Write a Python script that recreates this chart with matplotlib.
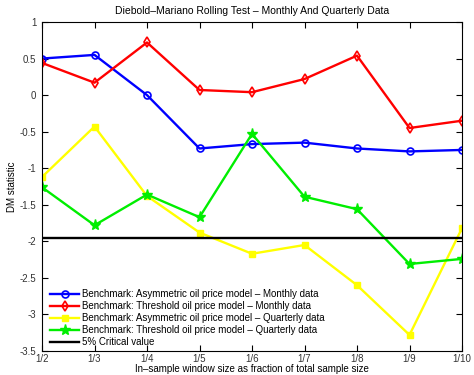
import matplotlib
matplotlib.use("Agg")
import matplotlib.pyplot as plt

labels = ["1/2", "1/3", "1/4", "1/5", "1/6", "1/7", "1/8", "1/9", "1/10"]
asym_monthly = [0.50, 0.55, 0.00, -0.73, -0.67, -0.65, -0.73, -0.77, -0.75]
thr_monthly = [0.44, 0.17, 0.72, 0.07, 0.04, 0.22, 0.54, -0.45, -0.35]
asym_quarterly = [-1.12, -0.43, -1.38, -1.88, -2.17, -2.05, -2.60, -3.28, -1.82]
thr_quarterly = [-1.26, -1.78, -1.36, -1.67, -0.53, -1.39, -1.56, -2.31, -2.24]
critical = -1.96

plt.rcParams['font.family'] = ['Liberation Sans', 'DejaVu Sans']
fig = plt.figure(figsize=(4.74, 3.75), dpi=100)
ax = fig.add_axes([42/474, 1 - 351/375, 420/474, 329/375])
x = list(range(1, len(labels) + 1))

ax.plot(x, asym_monthly, color='#0000ff', lw=1.7, marker='o', ms=5, mfc='none', mew=1.2,
        label='Benchmark: Asymmetric oil price model \u2013 Monthly data')
ax.plot(x, thr_monthly, color='#ff0000', lw=1.7, marker='d', ms=5.5, mfc='none', mew=1.2,
        label='Benchmark: Threshold oil price model \u2013 Monthly data')
ax.plot(x, asym_quarterly, color='#ffff00', lw=1.7, marker='s', ms=4.5,
        label='Benchmark: Asymmetric oil price model \u2013 Quarterly data')
ax.plot(x, thr_quarterly, color='#00ee00', lw=1.7, marker='*', ms=8,
        label='Benchmark: Threshold oil price model \u2013 Quarterly data')
ax.axhline(critical, color='black', lw=1.7, label='5% Critical value')

ax.set_xlim(1, 9)
ax.set_ylim(-3.5, 1)
ax.set_xticks(x)
ax.set_xticklabels(labels)
ax.set_yticks([-3.5, -3, -2.5, -2, -1.5, -1, -0.5, 0, 0.5, 1])
ax.set_yticklabels(['-3.5', '-3', '-2.5', '-2', '-1.5', '-1', '-0.5', '0', '0.5', '1'])
ax.tick_params(direction='in', top=True, right=True, labelsize=7, length=4, labelcolor='#333333')
ax.tick_params(axis='x', pad=2)
ax.tick_params(axis='y', pad=4)
ax.set_title('Diebold\u2013Mariano Rolling Test \u2013 Monthly And Quarterly Data', fontsize=7.5, pad=6)
ax.set_xlabel('In\u2013sample window size as fraction of total sample size', fontsize=7, labelpad=0)
ax.set_ylabel('DM statistic', fontsize=7, labelpad=2)
ax.legend(loc='lower left', bbox_to_anchor=(8/420, 4/329), fontsize=7, frameon=False,
          handlelength=3, labelspacing=0.2, borderaxespad=0, borderpad=0, handletextpad=0.3)
fig.savefig('out.png', dpi=100)
